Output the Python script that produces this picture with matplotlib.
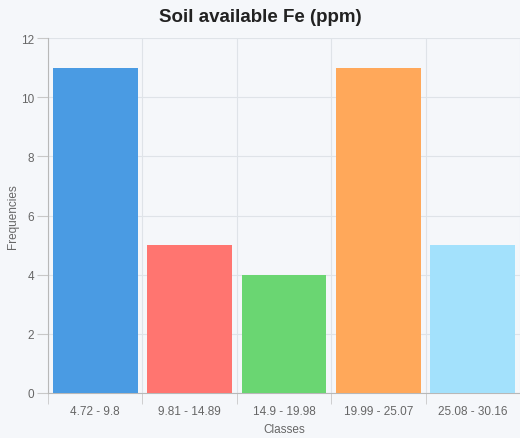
import numpy as np
import matplotlib.pyplot as plt

plt.rcParams['font.family'] = ['Liberation Sans', 'DejaVu Sans']

classes = ["4.72 - 9.8", "9.81 - 14.89", "14.9 - 19.98", "19.99 - 25.07", "25.08 - 30.16"]
freqs = [11, 5, 4, 11, 5]
colors = ["#4a9be3", "#ff7570", "#6ad672", "#ffa85a", "#a3e1fc"]

bg = "#f5f7fa"
fig = plt.figure(figsize=(5.2, 4.39), dpi=100, facecolor=bg)
ax = fig.add_axes([48 / 520, 1 - 394 / 439, 1 - 48 / 520, 355 / 439])
ax.set_facecolor(bg)

x = np.arange(len(classes))
ax.bar(x, freqs, width=0.9, color=colors, zorder=3)

ax.set_xlim(-0.5, 4.47)
ax.set_ylim(0, 12)
ax.set_yticks(range(0, 13, 2))
ax.set_xticks(x)
ax.set_xticklabels(classes)
# gridlines sit on the category boundaries
ax.set_xticks(np.arange(-0.5, 5, 1), minor=True)
ax.grid(axis="x", which="minor", color="#dfe3e8", lw=0.8, zorder=0)
ax.grid(axis="y", which="major", color="#dfe3e8", lw=0.8, zorder=0)

ax.tick_params(axis="x", which="major", length=0, pad=9, labelsize=8.5, labelcolor="#666666")
ax.tick_params(axis="x", which="minor", length=8, color="#c8c8c8")
ax.tick_params(axis="y", length=8, color="#c8c8c8", labelsize=8.5, labelcolor="#666666", pad=2)

for s in ["top", "right"]:
    ax.spines[s].set_visible(False)
for s in ["left", "bottom"]:
    ax.spines[s].set_color("#b8b8b8")

ax.set_xlabel("Classes", fontsize=8.5, color="#666666", labelpad=4)
ax.set_ylabel("Frequencies", fontsize=8.5, color="#666666")
ax.yaxis.set_label_coords(-29 / 472, 0.5)
fig.text(0.5, 1 - 17 / 439, "Soil available Fe (ppm)", ha="center", va="center",
         fontsize=13.5, fontweight="bold", color="#222222")

fig.savefig("out.png", dpi=100, facecolor=bg)
